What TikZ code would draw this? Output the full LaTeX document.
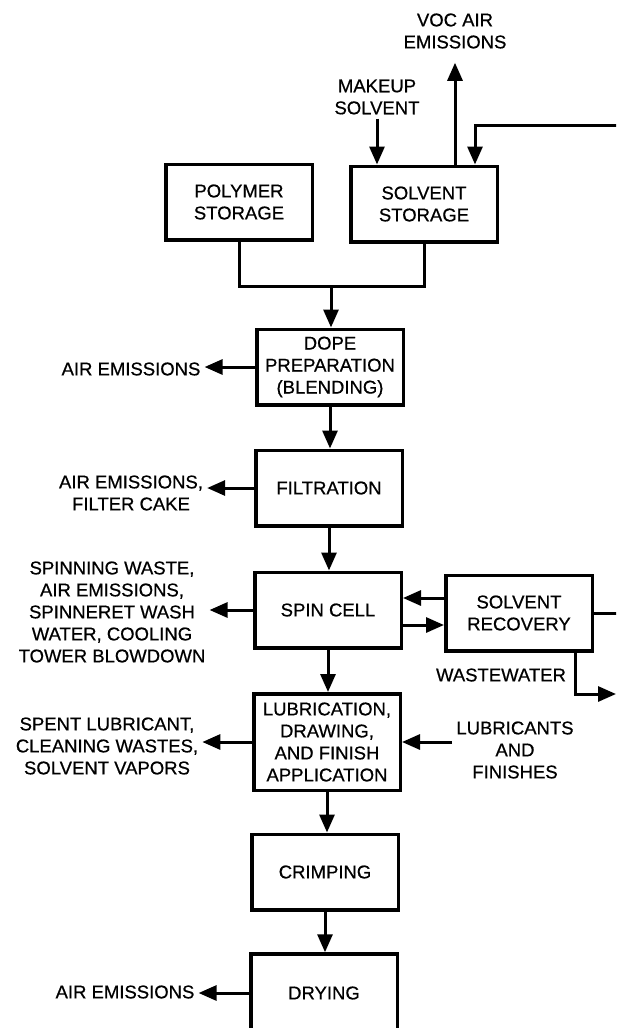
\documentclass[tikz,border=0pt]{standalone}
\usepackage{fontspec}
\setmainfont{Liberation Sans}[FakeBold=0.6]
\usetikzlibrary{arrows.meta,positioning,calc}

\tikzset{
  procbox/.style={draw, line width=3.5pt, minimum width=146.5pt, minimum height=75.5pt, align=center, inner sep=2pt},
  lbl/.style={align=center, inner sep=4pt},
  flow/.style={line width=3pt},
  arr/.style={flow, -{Triangle[length=18pt,width=15pt]}},
}

\begin{document}
\begin{tikzpicture}[x=1pt, y=-1pt, font=\fontsize{18.5}{22}\selectfont]
\useasboundingbox (0,0) rectangle (616,1028);
\clip (0,0) rectangle (616,1028);

\node[procbox] (poly) at (239,202) {POLYMER\\STORAGE};
\node[procbox] (solv) at (424,204) {SOLVENT\\STORAGE};
\node[procbox] (dope) at (330,367) {DOPE\\PREPARATION\\(BLENDING)};
\node[procbox] (filt) at (329,488) {FILTRATION};
\node[procbox] (spin) at (328,610) {SPIN CELL};
\node[procbox] (recov) at (519,613) {SOLVENT\\RECOVERY};
\node[procbox, minimum height=96.5pt] (lub) at (327,742) {LUBRICATION,\\DRAWING,\\AND FINISH\\APPLICATION};
\node[procbox] (crimp) at (325,872) {CRIMPING};
\node[procbox, minimum height=78pt] (dry) at (324,993) {DRYING};

\node[lbl] (voc) at (455,31) {VOC AIR\\EMISSIONS};
\node[lbl] (makeup) at (377,97) {MAKEUP\\SOLVENT};
\node[lbl] (air1) at (131,369) {AIR EMISSIONS};
\node[lbl] (air2) at (131,493) {AIR EMISSIONS,\\FILTER CAKE};
\node[lbl] (spinw) at (112,612) {SPINNING WASTE,\\AIR EMISSIONS,\\SPINNERET WASH\\WATER, COOLING\\TOWER BLOWDOWN};
\node[lbl] (spent) at (107,746) {SPENT LUBRICANT,\\CLEANING WASTES,\\SOLVENT VAPORS};
\node[lbl] (ww) at (501,675) {WASTEWATER};
\node[lbl] (lubr) at (515,750) {LUBRICANTS\\AND\\FINISHES};
\node[lbl] (air3) at (125,992) {AIR EMISSIONS};

\coordinate (join) at (331,286);
\coordinate (rc) at (640,125);
\coordinate (wwout) at (616,694);

\draw[flow] (poly.south) |- (join) -| (solv.south);
\draw[arr] (join) -- (join |- dope.north);
\draw[arr] (makeup.south) -- (makeup.south |- solv.north);
\draw[arr, shorten >=10pt] (voc.south |- solv.north) -- (voc.south);
\draw[arr] (recov.east) -| (rc) -| ([xshift=51pt]solv.north);

\draw[arr] (dope.south) -- (dope.south |- filt.north);
\draw[arr] (filt.south) -- (filt.south |- spin.north);
\draw[arr] (spin.south) -- (spin.south |- lub.north);
\draw[arr] (lub.south) -- (lub.south |- crimp.north);
\draw[arr] (crimp.south) -- (crimp.south |- dry.north);

\draw[arr] ([yshift=15pt]recov.west) -- ([yshift=15pt]recov.west -| spin.east);
\draw[arr] ([yshift=-15pt]spin.east) -- ([yshift=-15pt]spin.east -| recov.west);
\draw[arr] ([xshift=56pt]recov.south) |- (wwout);

\draw[arr] (dope.west) -- (dope.west -| air1.east);
\draw[arr] (filt.west) -- (filt.west -| air2.east);
\draw[arr] (spin.west) -- (spin.west -| spinw.east);
\draw[arr] (lub.west) -- (lub.west -| spent.east);
\draw[arr] (lubr.west |- lub.east) -- (lub.east);
\draw[arr] (dry.west) -- (dry.west -| air3.east);
\end{tikzpicture}
\end{document}
